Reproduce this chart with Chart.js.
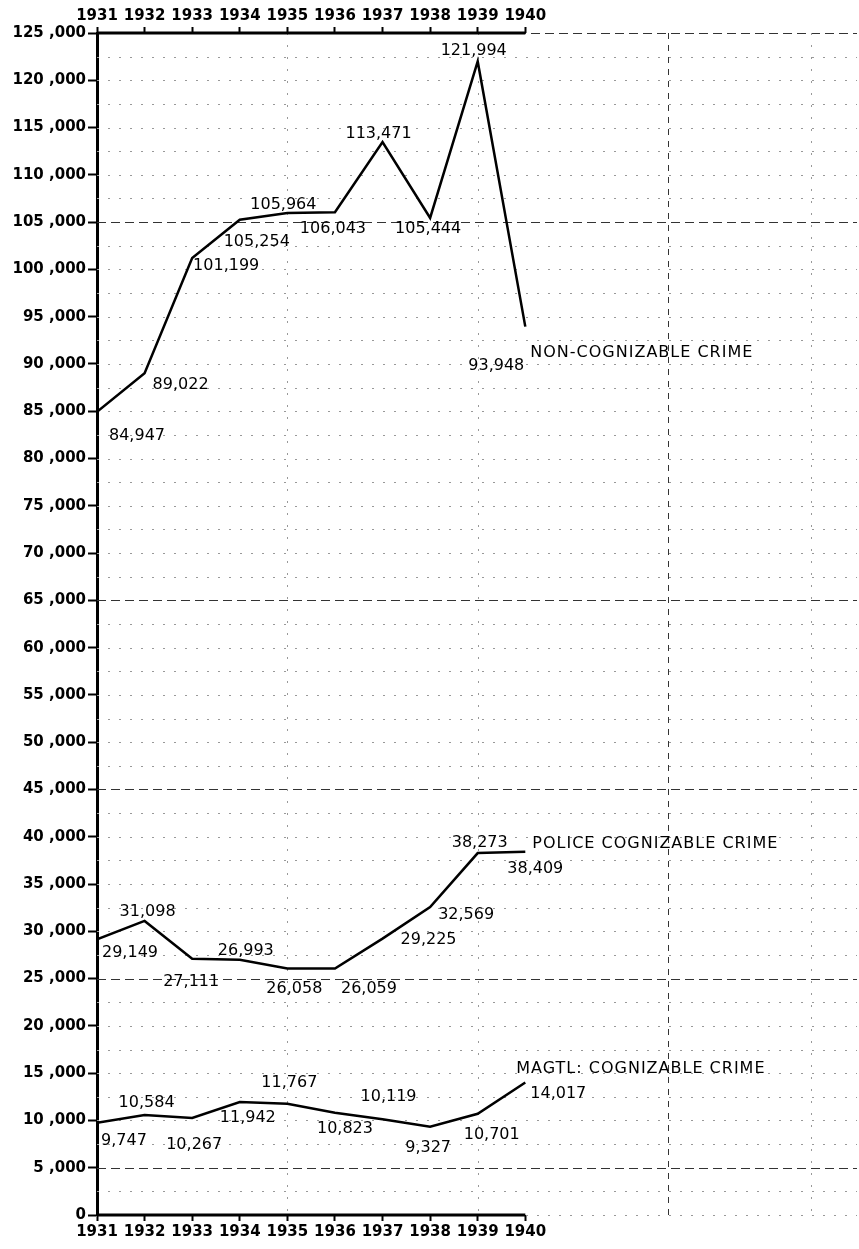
<!DOCTYPE html>
<html>
<head>
<meta charset="utf-8">
<script src="https://cdn.jsdelivr.net/npm/chart.js@4.4.1/dist/chart.umd.min.js"></script>
<style>
  html, body { margin: 0; padding: 0; background: #fff; }
  #wrap { width: 859px; height: 1249px; position: relative; }
</style>
</head>
<body>
<div id="wrap"><canvas id="crimeChart"></canvas></div>
<script>
const years = [1931, 1932, 1933, 1934, 1935, 1936, 1937, 1938, 1939, 1940];
const nonCognizable = [84947, 89022, 101199, 105254, 105964, 106043, 113471, 105444, 121994, 93948];
const policeCognizable = [29149, 31098, 27111, 26993, 26058, 26059, 29225, 32569, 38273, 38409];
const magtlCognizable = [9747, 10584, 10267, 11942, 11767, 10823, 10119, 9327, 10701, 14017];
const seriesNames = ['NON-COGNIZABLE CRIME', 'POLICE COGNIZABLE CRIME', 'MAGTL: COGNIZABLE CRIME'];

// graph-paper lines behind the plot
const majorRows = [125000, 105000, 65000, 45000, 25000, 5000];
const majorCols = [1943];
const minorCols = [1935, 1939, 1946];

// where each value label sits relative to its point (px)
const labelOffsets = [
    [[40, 24], [36, 12], [34, 8], [17, 22], [-4, -8], [-2, 17], [-4, -8], [-2, 11], [-4, -11], [-29, 39]],
    [[33, 13], [3, -9], [-1, 23], [6, -9], [7, 20], [34, 20], [46, 1], [36, 8], [2, -10], [10, 17]],
    [[27, 18], [2, -12], [2, 27], [8, 16], [2, -21], [10, 16], [6, -22], [-2, 21], [14, 21], [33, 11]]
];
const nameOffsets = [[5, 26], [7, -8], [-9, -14]];

const X_MAX = 1946.97;
const fontFamily = '"DejaVu Sans", sans-serif';

function fmtTick(v) {
    return v === 0 ? '0' : v.toLocaleString('en-US').replace(',', ' ,');
}

const paperGrid = {
    id: 'paperGrid',
    beforeDatasetsDraw(chart) {
        const { ctx, chartArea: a, scales } = chart;
        const y = scales.y, x = scales.x;
        ctx.save();
        ctx.lineWidth = 1;
        for (let v = 0; v <= 125000; v += 2500) {
            const py = Math.round(y.getPixelForValue(v)) + 0.5;
            const major = majorRows.includes(v);
            ctx.strokeStyle = major ? '#333' : '#999';
            ctx.setLineDash(major ? [9, 5] : [2, 9]);
            ctx.beginPath();
            ctx.moveTo(a.left, py);
            ctx.lineTo(a.right, py);
            ctx.stroke();
        }
        minorCols.concat(majorCols).forEach(v => {
            const px = Math.round(x.getPixelForValue(v)) + 0.5;
            const major = majorCols.includes(v);
            ctx.strokeStyle = major ? '#333' : '#999';
            ctx.setLineDash(major ? [6, 6] : [2, 10]);
            ctx.beginPath();
            ctx.moveTo(px, a.top);
            ctx.lineTo(px, a.bottom);
            ctx.stroke();
        });
        ctx.restore();
    },
    afterDraw(chart) {
        const { ctx, chartArea: a, scales } = chart;
        const x0 = scales.x.getPixelForValue(years[0]);
        const x1 = scales.x.getPixelForValue(years[years.length - 1]);
        ctx.save();
        ctx.strokeStyle = '#000';
        ctx.lineWidth = 3;
        ctx.beginPath();
        ctx.moveTo(x0, a.top);
        ctx.lineTo(x1, a.top);
        ctx.moveTo(x0, a.bottom);
        ctx.lineTo(x1, a.bottom);
        ctx.stroke();
        ctx.restore();
    }
};

const valueLabels = {
    id: 'valueLabels',
    afterDatasetsDraw(chart) {
        const { ctx } = chart;
        ctx.save();
        ctx.fillStyle = '#000';
        ctx.textBaseline = 'middle';
        chart.data.datasets.forEach((ds, i) => {
            const pts = chart.getDatasetMeta(i).data;
            ctx.font = '16px ' + fontFamily;
            ctx.textAlign = 'center';
            pts.forEach((p, j) => {
                const off = labelOffsets[i][j];
                ctx.fillText(ds.data[j].y.toLocaleString('en-US'), p.x + off[0], p.y + off[1]);
            });
            const last = pts[pts.length - 1];
            ctx.font = '16px ' + fontFamily;
            ctx.textAlign = 'left';
            ctx.letterSpacing = '1px';
            ctx.fillText(seriesNames[i], last.x + nameOffsets[i][0], last.y + nameOffsets[i][1]);
            ctx.letterSpacing = '0px';
        });
        ctx.restore();
    }
};

function toPoints(values) {
    return values.map((v, i) => ({ x: years[i], y: v }));
}

const lineStyle = {
    borderColor: '#000',
    borderWidth: 2.5,
    pointRadius: 0,
    fill: false,
    tension: 0
};

const yearTicks = {
    stepSize: 1,
    autoSkip: false,
    maxRotation: 0,
    color: '#000',
    padding: 2,
    font: { family: fontFamily, size: 15, weight: 'bold' },
    callback: v => (v <= years[years.length - 1] && Number.isInteger(v)) ? String(v) : ''
};

const yearGrid = {
    drawOnChartArea: false,
    tickLength: 6,
    tickWidth: 2,
    tickColor: ctx => (ctx.tick && ctx.tick.value <= years[years.length - 1]) ? '#000' : 'rgba(0,0,0,0)'
};

new Chart(document.getElementById('crimeChart'), {
    type: 'line',
    data: {
        datasets: [
            { label: seriesNames[0], data: toPoints(nonCognizable), ...lineStyle },
            { label: seriesNames[1], data: toPoints(policeCognizable), ...lineStyle },
            { label: seriesNames[2], data: toPoints(magtlCognizable), ...lineStyle }
        ]
    },
    options: {
        responsive: true,
        maintainAspectRatio: false,
        animation: false,
        layout: { padding: 0 },
        plugins: {
            legend: { display: false },
            tooltip: { enabled: false }
        },
        scales: {
            x: {
                type: 'linear',
                position: 'bottom',
                min: years[0],
                max: X_MAX,
                ticks: yearTicks,
                grid: yearGrid,
                border: { display: false },
                afterFit: s => { s.height = 34; }
            },
            xTop: {
                type: 'linear',
                position: 'top',
                min: years[0],
                max: X_MAX,
                ticks: yearTicks,
                grid: yearGrid,
                border: { display: false },
                afterFit: s => { s.height = 33; }
            },
            y: {
                min: 0,
                max: 125000,
                ticks: {
                    stepSize: 5000,
                    color: '#000',
                    padding: 2,
                    font: { family: fontFamily, size: 15, weight: 'bold' },
                    callback: fmtTick
                },
                grid: {
                    drawOnChartArea: false,
                    tickLength: 9,
                    tickWidth: 2,
                    tickColor: '#000'
                },
                border: { display: true, color: '#000', width: 3 },
                afterFit: s => { s.width = 97; }
            }
        }
    },
    plugins: [paperGrid, valueLabels]
});
</script>
</body>
</html>
